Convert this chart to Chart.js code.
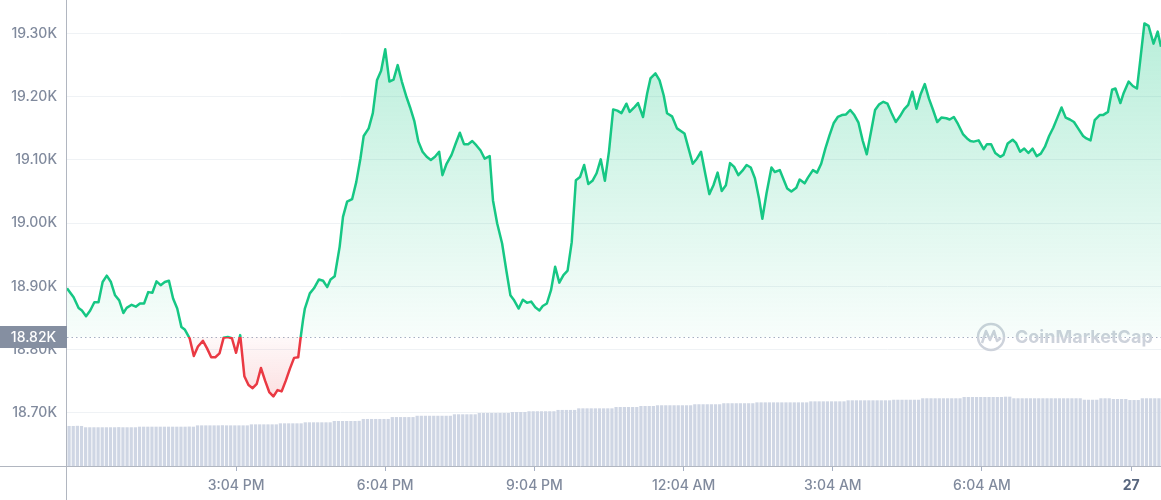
<!DOCTYPE html>
<html>
<head>
<meta charset="utf-8">
<script src="https://cdn.jsdelivr.net/npm/chart.js@4.4.0/dist/chart.umd.min.js"></script>
<style>
  html, body { margin: 0; padding: 0; background: #fff; }
  canvas { display: block; }
</style>
</head>
<body>
<canvas id="myChart" width="1161" height="500"></canvas>
<script>
// minutes after 11:40 AM, and BTC price (USD) at that moment
const priceTimes = [
    0, 8, 14, 18, 23, 28, 33, 38, 43, 48, 53, 58, 63, 68, 72, 78, 83, 88, 93, 98,
    103, 108, 113, 118, 123, 128, 133, 138, 142, 148, 153, 158, 164, 169, 174, 179, 184, 189, 194, 199,
    204, 209, 214, 219, 224, 229, 234, 239, 244, 249, 254, 259, 264, 269, 274, 279, 282, 285, 287, 293,
    298, 304, 309, 314, 318, 323, 329, 333, 338, 344, 349, 354, 358, 364, 369, 374, 379, 384, 389, 394,
    399, 404, 409, 414, 419, 424, 429, 434, 439, 444, 449, 453, 458, 464, 469, 474, 479, 484, 489, 494,
    499, 504, 510, 514, 519, 525, 530, 535, 539, 545, 550, 555, 560, 565, 570, 574, 579, 584, 589, 594,
    599, 604, 609, 614, 619, 624, 629, 634, 639, 644, 649, 654, 659, 664, 669, 675, 679, 685, 689, 695,
    700, 704, 710, 715, 720, 724, 730, 736, 745, 750, 755, 760, 765, 770, 775, 780, 785, 790, 795, 800,
    805, 810, 815, 820, 825, 830, 835, 839, 844, 850, 854, 860, 864, 869, 874, 880, 884, 890, 894, 900,
    905, 910, 915, 920, 925, 930, 935, 940, 945, 950, 955, 960, 965, 970, 975, 980, 985, 990, 995, 1000,
    1005, 1010, 1015, 1020, 1025, 1030, 1035, 1040, 1045, 1050, 1055, 1061, 1065, 1070, 1075, 1081, 1086, 1090, 1094, 1100,
    1106, 1110, 1115, 1120, 1126, 1130, 1135, 1141, 1145, 1150, 1155, 1160, 1165, 1170, 1175, 1180, 1185, 1190, 1195, 1200,
    1205, 1210, 1215, 1220, 1226, 1230, 1235, 1240, 1246, 1250, 1256, 1261, 1265, 1271, 1275, 1281, 1286, 1291, 1295, 1300,
    1305, 1311, 1316, 1320
];
const prices = [
    18897, 18883, 18866, 18862, 18853, 18862, 18875, 18875, 18907, 18917, 18907, 18886, 18878, 18858, 18866, 18871, 18868, 18873, 18873, 18891,
    18890, 18908, 18902, 18907, 18909, 18881, 18865, 18836, 18832, 18818, 18790, 18805, 18814, 18802, 18788, 18788, 18794, 18819, 18820, 18818,
    18795, 18823, 18758, 18744, 18739, 18746, 18771, 18751, 18733, 18726, 18736, 18734, 18751, 18770, 18787, 18788, 18820, 18849, 18865, 18889,
    18897, 18911, 18909, 18899, 18911, 18916, 18963, 19010, 19034, 19038, 19065, 19102, 19138, 19150, 19174, 19226, 19241, 19275, 19224, 19227,
    19250, 19224, 19202, 19183, 19162, 19129, 19113, 19105, 19100, 19105, 19113, 19076, 19094, 19108, 19126, 19143, 19125, 19125, 19130, 19123,
    19115, 19102, 19106, 19036, 19000, 18968, 18926, 18886, 18879, 18865, 18879, 18874, 18876, 18867, 18862, 18869, 18873, 18894, 18931, 18906,
    18918, 18925, 18970, 19068, 19073, 19092, 19062, 19067, 19079, 19101, 19067, 19114, 19180, 19178, 19174, 19189, 19176, 19184, 19190, 19168,
    19205, 19229, 19237, 19226, 19202, 19174, 19169, 19150, 19142, 19118, 19094, 19102, 19113, 19079, 19046, 19060, 19080, 19051, 19060, 19095,
    19089, 19076, 19083, 19092, 19088, 19071, 19039, 19007, 19047, 19088, 19081, 19084, 19071, 19055, 19050, 19056, 19069, 19063, 19072, 19084,
    19080, 19094, 19118, 19139, 19158, 19168, 19171, 19172, 19179, 19171, 19159, 19131, 19109, 19144, 19179, 19188, 19192, 19189, 19174, 19160,
    19169, 19180, 19187, 19208, 19181, 19204, 19220, 19197, 19179, 19160, 19167, 19166, 19164, 19168, 19157, 19141, 19134, 19130, 19129, 19131,
    19117, 19125, 19125, 19111, 19105, 19108, 19126, 19132, 19127, 19113, 19118, 19111, 19118, 19106, 19110, 19121, 19138, 19151, 19167, 19183,
    19167, 19164, 19160, 19150, 19138, 19134, 19131, 19163, 19171, 19171, 19176, 19211, 19213, 19190, 19206, 19224, 19217, 19213, 19258, 19316,
    19312, 19284, 19303, 19279
];

// 24h volume (billion USD), one bar every 5 minutes
const volStart = 2.5;
const volStep = 5;
const volume = [
    27.5, 27.5, 27.6, 27.5, 26.6, 26.6, 26.6, 26.6, 26.6, 26.6, 26.6, 26.6, 26.7, 26.6, 26.6, 26.6, 26.6, 27.0, 27.0, 27.0,
    27.0, 27.0, 27.0, 27.0, 27.0, 27.0, 27.0, 27.0, 27.0, 27.1, 27.0, 27.9, 27.9, 27.9, 27.9, 27.9, 27.9, 28.0, 27.9, 27.9,
    27.9, 27.9, 27.9, 27.9, 28.6, 28.6, 28.6, 28.6, 28.6, 28.6, 28.6, 29.3, 29.3, 29.3, 29.3, 29.3, 29.3, 30.0, 30.0, 30.0,
    30.0, 30.0, 30.0, 30.0, 30.9, 30.9, 30.9, 30.9, 30.9, 30.9, 31.0, 32.3, 32.3, 32.3, 32.3, 32.3, 32.3, 32.3, 33.6, 33.6,
    33.6, 33.6, 33.6, 33.6, 34.5, 34.5, 34.5, 34.5, 34.5, 34.5, 34.5, 34.5, 34.5, 35.5, 35.5, 35.5, 35.5, 35.5, 35.5, 36.4,
    36.4, 36.4, 36.4, 36.4, 36.4, 36.4, 36.4, 37.1, 37.1, 37.1, 37.1, 37.6, 37.6, 37.6, 37.6, 37.6, 37.6, 37.6, 38.5, 38.5,
    38.5, 38.5, 38.5, 39.6, 39.6, 39.6, 39.6, 39.6, 39.6, 39.6, 39.6, 39.6, 40.5, 40.5, 40.5, 40.5, 40.5, 40.5, 41.2, 41.2,
    41.2, 41.2, 41.7, 41.7, 41.7, 41.7, 41.7, 41.7, 41.7, 41.7, 41.7, 42.4, 42.4, 42.4, 42.4, 42.4, 42.4, 42.4, 43.1, 43.1,
    43.1, 43.1, 43.1, 43.1, 43.1, 43.1, 43.7, 43.7, 43.7, 43.7, 43.7, 43.7, 43.7, 43.7, 43.7, 43.7, 43.7, 43.7, 43.7, 44.4,
    44.4, 44.4, 44.4, 44.4, 44.4, 44.4, 44.4, 44.4, 45.1, 45.1, 45.1, 45.1, 45.1, 45.1, 45.1, 45.1, 45.1, 45.1, 45.1, 45.5,
    45.5, 45.5, 45.5, 45.5, 45.5, 45.5, 46.5, 46.5, 46.5, 46.5, 46.5, 46.5, 46.5, 46.5, 46.5, 46.5, 47.4, 47.4, 47.4, 47.4,
    47.4, 47.4, 47.4, 47.4, 47.4, 47.4, 47.6, 47.6, 46.5, 46.5, 46.5, 46.5, 46.5, 46.5, 46.5, 46.5, 46.5, 46.5, 46.5, 46.5,
    46.5, 46.5, 46.5, 46.5, 46.5, 45.5, 45.5, 45.5, 45.5, 46.5, 46.5, 46.5, 46.0, 46.0, 46.0, 46.0, 45.3, 45.3, 45.3, 46.5,
    46.5, 46.5, 46.5, 46.5
];

const baseline = 18820;   // open price
const yTicks = [18700, 18800, 18900, 19000, 19100, 19200, 19300];
const xTickTimes = [204, 384, 564, 744, 924, 1104, 1284];
const xTickLabels = ['3:04 PM', '6:04 PM', '9:04 PM', '12:04 AM', '3:04 AM', '6:04 AM', '27'];

const green = '#16c784';
const red = '#ea3943';
const labelGray = '#808a9d';

function splitGradient(chart, stops) {
    const area = chart.chartArea;
    const yb = chart.scales.y.getPixelForValue(baseline);
    const s = Math.min(Math.max((yb - area.top) / (area.bottom - area.top), 0), 1);
    const g = chart.ctx.createLinearGradient(0, area.top, 0, area.bottom);
    g.addColorStop(0, stops[0]);
    g.addColorStop(s, stops[1]);
    g.addColorStop(s, stops[2]);
    g.addColorStop(1, stops[3]);
    return g;
}

const decor = {
    id: 'decor',
    beforeDatasetsDraw(chart) {
        const {ctx, chartArea: a} = chart;
        const yb = chart.scales.y.getPixelForValue(baseline);
        ctx.save();
        ctx.strokeStyle = '#a6b0c3';
        ctx.lineWidth = 1;
        ctx.setLineDash([1.5, 3]);
        ctx.beginPath();
        ctx.moveTo(a.left, yb + 0.5);
        ctx.lineTo(a.right, yb + 0.5);
        ctx.stroke();
        ctx.setLineDash([]);

        // watermark
        const cx = 991, cy = yb;
        ctx.strokeStyle = '#cdd2db';
        ctx.lineWidth = 2.5;
        ctx.beginPath();
        ctx.arc(cx, cy, 13, 0, Math.PI * 2);
        ctx.stroke();
        ctx.lineJoin = 'round';
        ctx.beginPath();
        ctx.moveTo(cx - 9, cy + 6);
        ctx.lineTo(cx - 5, cy - 6);
        ctx.lineTo(cx - 1, cy + 3);
        ctx.lineTo(cx + 3, cy - 6);
        ctx.lineTo(cx + 6, cy + 4);
        ctx.lineTo(cx + 10, cy + 1);
        ctx.stroke();
        ctx.fillStyle = '#cdd2db';
        ctx.font = '700 18px Inter';
        ctx.textBaseline = 'middle';
        ctx.textAlign = 'left';
        ctx.fillText('CoinMarketCap', 1015, cy + 1);
        ctx.restore();
    },
    afterDraw(chart) {
        const {ctx, chartArea: a, width, height} = chart;
        const yb = chart.scales.y.getPixelForValue(baseline);
        ctx.save();
        ctx.strokeStyle = '#b1b6c0';
        ctx.lineWidth = 1;
        ctx.beginPath();
        ctx.moveTo(a.left - 0.5, 0);
        ctx.lineTo(a.left - 0.5, height);
        ctx.moveTo(0, a.bottom + 0.5);
        ctx.lineTo(width, a.bottom + 0.5);
        ctx.stroke();

        ctx.fillStyle = '#858fa1';
        ctx.fillRect(0, yb - 11, a.left, 22);
        ctx.fillStyle = '#fff';
        ctx.font = '500 14px Inter';
        ctx.textAlign = 'center';
        ctx.textBaseline = 'middle';
        ctx.fillText((baseline / 1000).toFixed(2) + 'K', a.left / 2, yb + 1);
        ctx.restore();
    }
};

const ctx = document.getElementById('myChart').getContext('2d');

const myChart = new Chart(ctx, {
    type: 'line',
    data: {
        datasets: [{
            type: 'line',
            data: priceTimes.map((t, i) => ({x: t, y: prices[i]})),
            yAxisID: 'y',
            borderWidth: 2.5,
            pointRadius: 0,
            tension: 0,
            borderJoinStyle: 'round',
            borderColor: (c) => c.chart.chartArea ? splitGradient(c.chart, [green, green, red, red]) : green,
            backgroundColor: (c) => c.chart.chartArea ? splitGradient(c.chart, [
                'rgba(22, 199, 132, 0.32)', 'rgba(22, 199, 132, 0.03)',
                'rgba(234, 57, 67, 0.03)', 'rgba(234, 57, 67, 0.3)'
            ]) : 'transparent',
            fill: {target: {value: baseline}},
            order: 1
        }, {
            type: 'bar',
            data: volume.map((v, i) => ({x: volStart + i * volStep, y: v})),
            yAxisID: 'yv',
            backgroundColor: '#cfd6e4',
            barPercentage: 0.78,
            categoryPercentage: 1,
            order: 2
        }]
    },
    options: {
        responsive: false,
        maintainAspectRatio: false,
        animation: false,
        layout: {padding: 0},
        scales: {
            x: {
                type: 'linear',
                min: 0,
                max: 1320,
                offset: false,
                afterBuildTicks: (scale) => {
                    scale.ticks = xTickTimes.map(v => ({value: v}));
                },
                afterFit: (scale) => {
                    scale.height = 34;
                    scale.paddingLeft = 0;
                    scale.paddingRight = 0;
                },
                border: {display: false},
                grid: {
                    offset: false,
                    drawOnChartArea: false,
                    drawTicks: true,
                    tickLength: 5,
                    color: '#a6b0c3'
                },
                ticks: {
                    autoSkip: false,
                    maxRotation: 0,
                    padding: 6,
                    callback: (value, index) => xTickLabels[index],
                    color: (c) => c.index === 6 ? '#58667e' : labelGray,
                    font: (c) => ({family: 'Inter', size: 14, weight: c.index === 6 ? '700' : '500'})
                }
            },
            y: {
                min: 18616,
                max: 19353,
                position: 'left',
                afterBuildTicks: (scale) => {
                    scale.ticks = yTicks.map(v => ({value: v}));
                },
                afterFit: (scale) => {
                    scale.width = 67;
                    scale.paddingTop = 0;
                    scale.paddingBottom = 0;
                },
                border: {display: false},
                grid: {
                    color: '#eff2f5',
                    drawTicks: false
                },
                ticks: {
                    padding: 10,
                    color: labelGray,
                    font: {family: 'Inter', size: 14, weight: '500'},
                    callback: (value) => (value / 1000).toFixed(2) + 'K'
                }
            },
            yv: {
                display: false,
                min: 0,
                max: 320
            }
        },
        plugins: {
            legend: {display: false},
            tooltip: {enabled: false}
        }
    },
    plugins: [decor]
});
</script>
</body>
</html>
